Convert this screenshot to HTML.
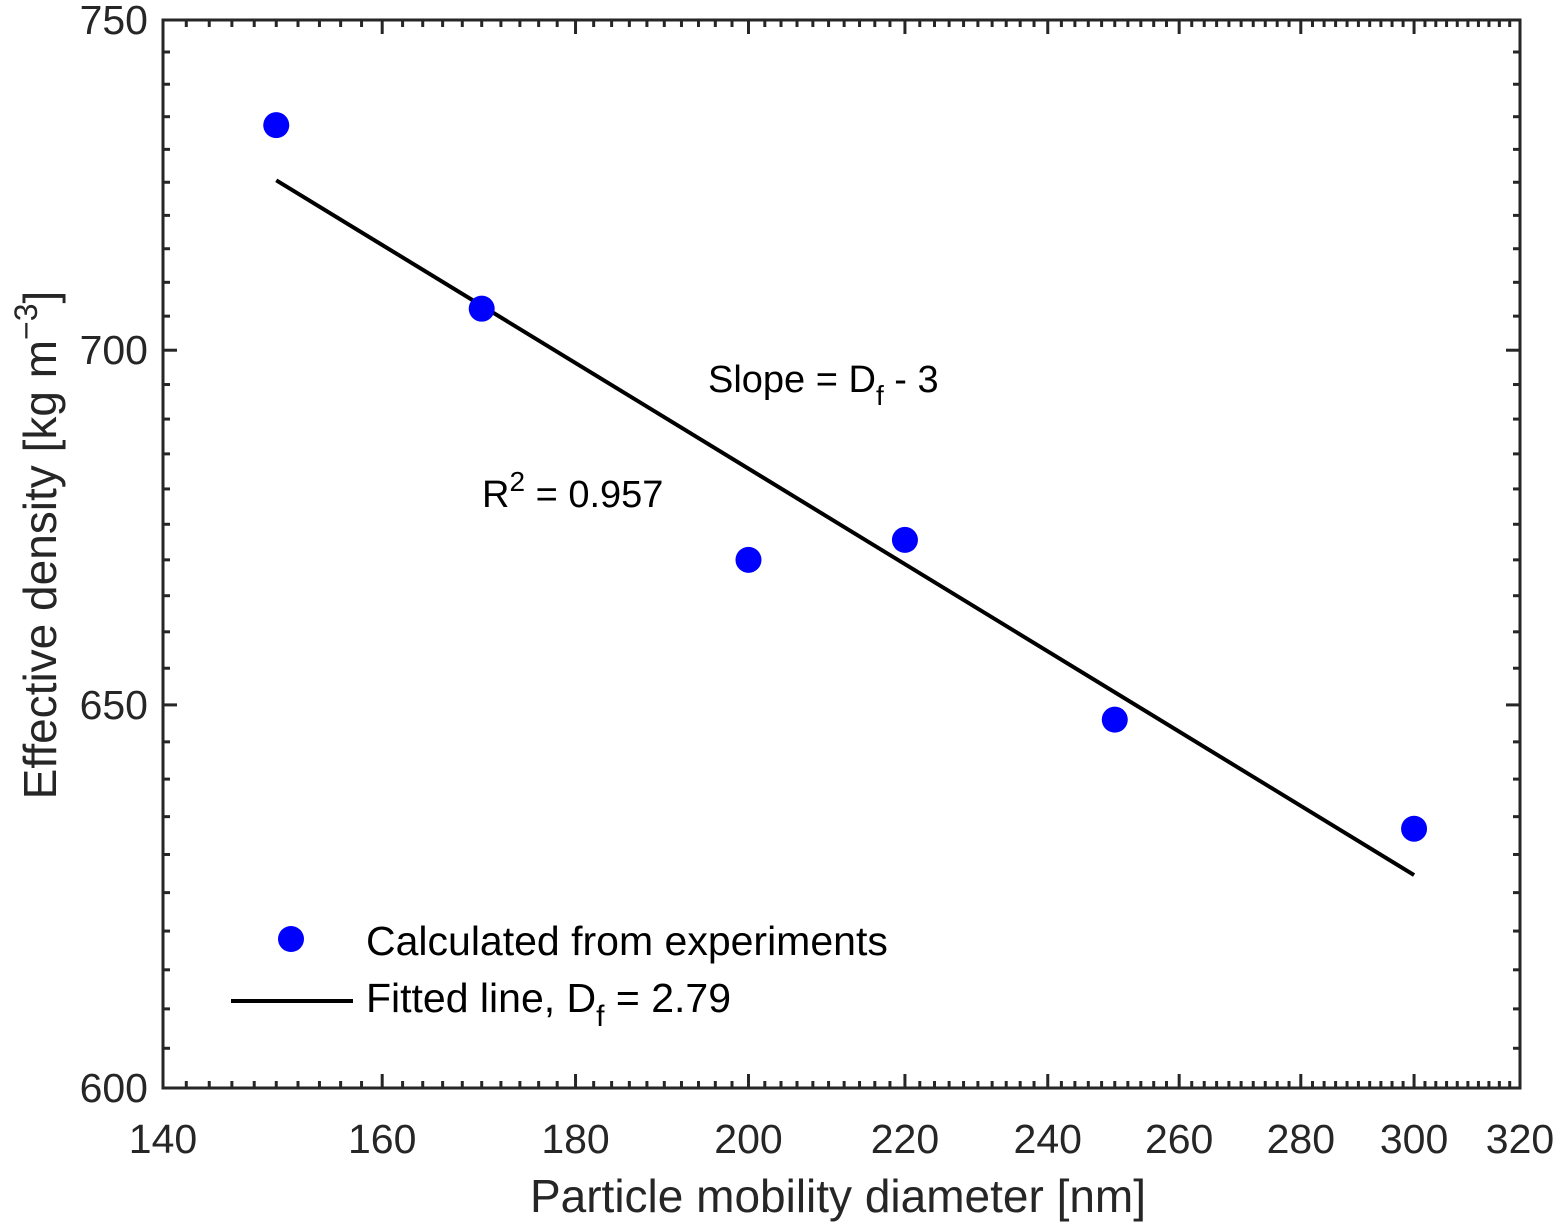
<!DOCTYPE html>
<html><head><meta charset="utf-8"><style>
body{margin:0;background:#fff}
svg{display:block;font-family:"Liberation Sans",Arial,sans-serif}
</style></head><body>
<svg id="chart" width="1560" height="1224">
<rect x="0" y="0" width="1560" height="1224" fill="#fff"/>
<g id="ticks"></g>
<g id="marks"></g>
<rect x="163" y="20" width="1357" height="1068" fill="none" stroke="#262626" stroke-width="3"/>
<g id="labels" font-size="41" fill="#262626"></g>
<text x="838" y="1212" font-size="46" text-anchor="middle" fill="#262626">Particle mobility diameter [nm]</text>
<text transform="translate(56,545) rotate(-90)" font-size="46" text-anchor="middle" fill="#262626">Effective density [kg m<tspan dy="-19" font-size="32">−3</tspan><tspan dy="19">]</tspan></text>
<text x="708" y="392" font-size="38" fill="#000">Slope = D<tspan dy="13" font-size="28">f</tspan><tspan dy="-13"> - 3</tspan></text>
<text x="482" y="507" font-size="38" fill="#000">R<tspan dy="-16" font-size="28">2</tspan><tspan dy="16"> = 0.957</tspan></text>
<g>
<circle cx="291" cy="939" r="13" fill="#0000ff"/>
<text x="366" y="955" font-size="41" fill="#000">Calculated from experiments</text>
<line x1="231" y1="1001" x2="353" y2="1001" stroke="#000" stroke-width="4"/>
<text x="366" y="1012" font-size="41" fill="#000">Fitted line, D<tspan dy="14" font-size="30">f</tspan><tspan dy="-14"> = 2.79</tspan></text>
</g>
</svg>
<script>
const diameters=[150,170,200,220,250,300];
const densities=[733.7,706.1,670.0,672.8,648.0,633.4];
const fitX=[150,300];
const fitY=[725.3,627.3];
const xTicks=[140,160,180,200,220,240,260,280,300,320];
const yTicks=[600,650,700,750];
const L=163,R=1520,T=20,B=1088;
const xs=v=>L+(R-L)*Math.log(v/140)/Math.log(320/140);
const ys=v=>B-(B-T)*Math.log(v/600)/Math.log(750/600);
const NS="http://www.w3.org/2000/svg";
const tk=document.getElementById('ticks'),mk=document.getElementById('marks'),lb=document.getElementById('labels');
function ln(g,x1,y1,x2,y2,w,c){const e=document.createElementNS(NS,'line');e.setAttribute('x1',x1);e.setAttribute('y1',y1);e.setAttribute('x2',x2);e.setAttribute('y2',y2);e.setAttribute('stroke',c);e.setAttribute('stroke-width',w);g.appendChild(e);return e;}
for(let v=142;v<320;v+=2){const x=xs(v),len=(v%20===0)?14:7;
ln(tk,x,B,x,B-len,3,'#262626');ln(tk,x,T,x,T+len,3,'#262626');}
for(let v=605;v<750;v+=5){const y=ys(v),len=(v%50===0)?14:7;
ln(tk,L,y,L+len,y,3,'#262626');ln(tk,R,y,R-len,y,3,'#262626');}
xTicks.forEach(v=>{const t=document.createElementNS(NS,'text');t.setAttribute('x',xs(v));t.setAttribute('y',1153);t.setAttribute('text-anchor','middle');t.textContent=v;


lb.appendChild(t);});
yTicks.forEach(v=>{const t=document.createElementNS(NS,'text');t.setAttribute('x',148);t.setAttribute('y',ys(v)+14);t.setAttribute('text-anchor','end');t.textContent=v;


lb.appendChild(t);});
const fl=ln(mk,xs(fitX[0]),ys(fitY[0]),xs(fitX[1]),ys(fitY[1]),4,'#000');


diameters.forEach((d,i)=>{const c=document.createElementNS(NS,'circle');c.setAttribute('cx',xs(d));c.setAttribute('cy',ys(densities[i]));c.setAttribute('r',13);c.setAttribute('fill','#0000ff');


mk.appendChild(c);});
</script>
</body></html>
